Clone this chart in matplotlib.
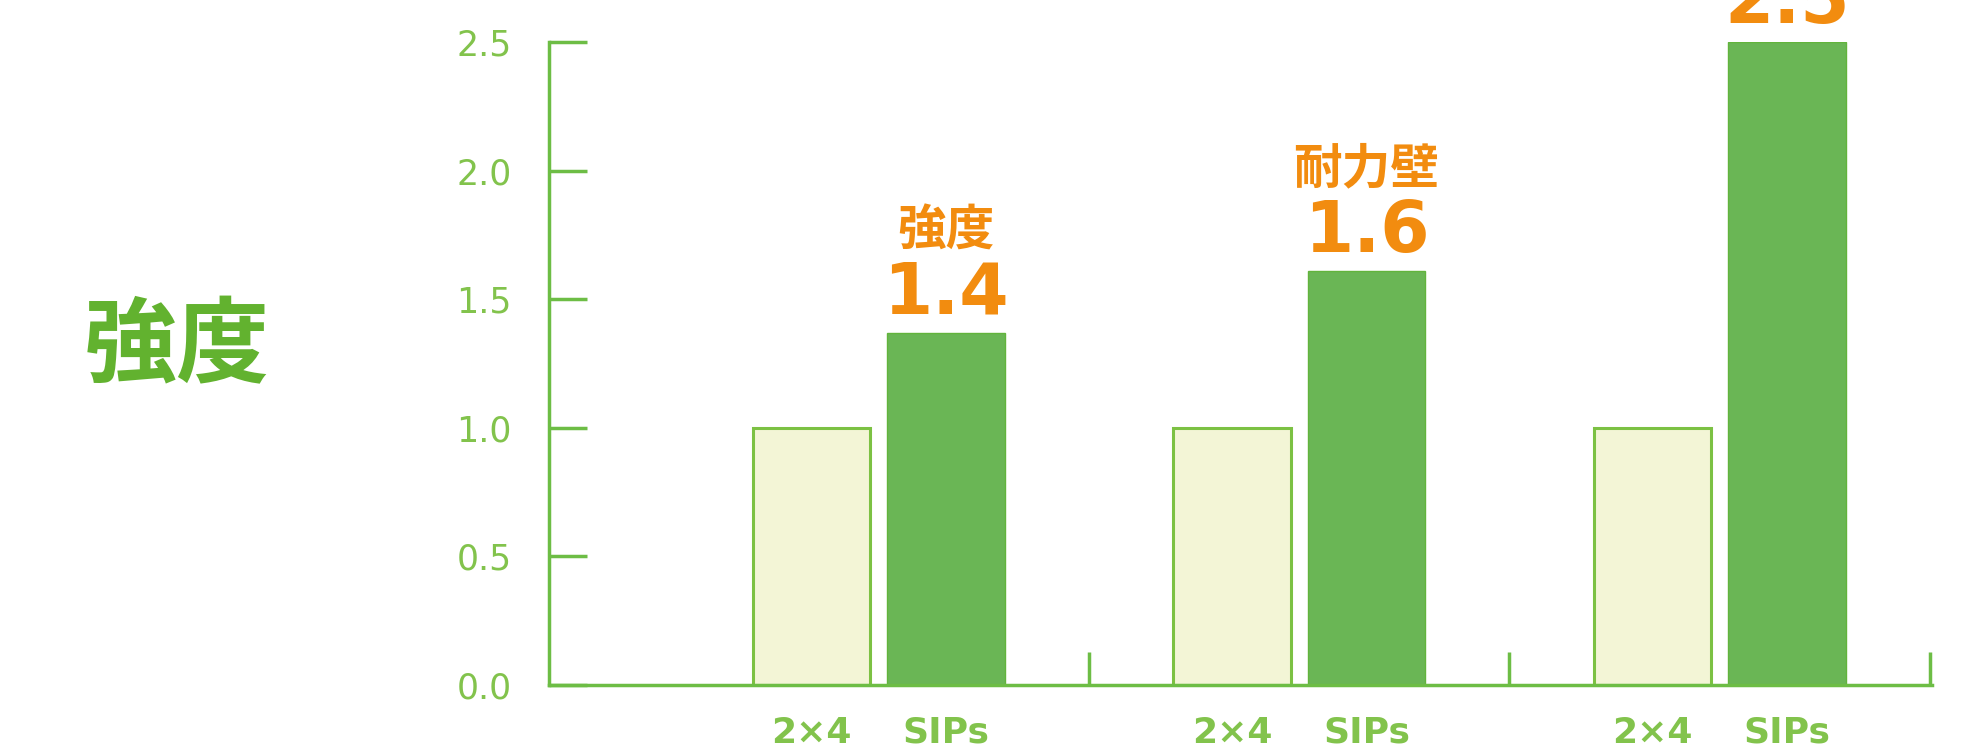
import matplotlib
matplotlib.use('Agg')
import matplotlib.pyplot as plt
import numpy as np
from matplotlib.ticker import FixedLocator, FormatStrFormatter

plt.rcParams['font.family'] = ['DejaVu Sans', 'Noto Sans CJK JP']

# data
group_titles = ['強度', '耐力壁', '']   # third title lies above the picture
bar_names = ['2×4', 'SIPs']
values_2x4 = [1.0, 1.0, 1.0]
values_sips = [1.37, 1.61, 2.5]
value_labels = ['1.4', '1.6', '2.5']
y_ticks = [0.0, 0.5, 1.0, 1.5, 2.0, 2.5]

green = '#6dbd45'
green_txt = '#82c34c'
orange = '#f28c0f'

fig = plt.figure(figsize=(19.88, 7.49), dpi=100)
ax = fig.add_axes([549/1988, 1-685/749, (1932-549)/1988, (685-42)/749])

x = np.arange(len(values_sips))
w = 0.28
off = 0.16
ax.bar(x-off, values_2x4, w, color='#f3f5d6', edgecolor='#7cc143', linewidth=2.2, zorder=2)
ax.bar(x+off, values_sips, w, color='#6ab655', edgecolor='#62b43c', linewidth=1, zorder=2)

ax.set_xlim(-0.784, 2.505)
ax.set_ylim(0, 2.5)

for s in ['top', 'right']:
    ax.spines[s].set_visible(False)
for s in ['left', 'bottom']:
    ax.spines[s].set_color(green)
    ax.spines[s].set_linewidth(2.5)
    ax.spines[s].set_zorder(3)

# y axis
ax.set_yticks(y_ticks)
ax.yaxis.set_major_formatter(FormatStrFormatter('%.1f'))
ax.tick_params(axis='y', direction='in', length=27, width=2.5, color=green,
               labelcolor=green_txt, labelsize=25, pad=27)

# x axis: labels under bars, small ticks between groups
pos = []
labs = []
for i in x:
    pos += [i-off, i+off]
    labs += bar_names
ax.set_xticks(pos)
ax.set_xticklabels(labs, fontweight='bold')
ax.tick_params(axis='x', which='major', length=0, labelcolor=green_txt, labelsize=26, pad=22)
ax.xaxis.set_minor_locator(FixedLocator(x + 0.5))
ax.tick_params(axis='x', which='minor', direction='in', length=24, width=2.5, color=green)

# value labels
for i in x:
    ax.annotate(value_labels[i], (x[i]+off, values_sips[i]), xytext=(0, 13.5),
                textcoords='offset points', ha='center', va='baseline',
                fontsize=51, fontweight='bold', color=orange, annotation_clip=False)
    ax.annotate(group_titles[i], (x[i]+off, values_sips[i]), xytext=(0, 63),
                textcoords='offset points', ha='center', va='baseline',
                fontsize=35, fontweight='bold', color=orange, annotation_clip=False,
                family=['Noto Sans CJK JP', 'DejaVu Sans'])

fig.text(0.089, 0.536, '強度', fontsize=67, fontweight='bold', color='#62b22f',
         ha='center', va='center', family=['Noto Sans CJK JP', 'DejaVu Sans'])

fig.savefig('out.png', dpi=100)
